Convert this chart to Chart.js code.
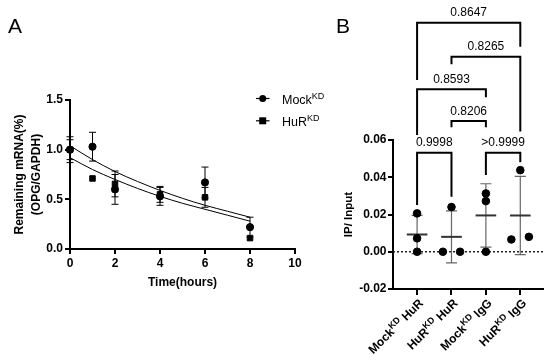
<!DOCTYPE html>
<html>
<head>
<meta charset="utf-8">
<script src="https://cdn.jsdelivr.net/npm/chart.js@4"></script>
<style>
  body { margin: 0; background: #fff; }
  #wrap { position: relative; width: 550px; height: 360px; font-family: Arial, "Liberation Sans", sans-serif; }
  canvas { position: absolute; top: 0; }
  #chartA { left: 0; }
  #chartB { left: 330px; }
  .letter { position: absolute; top: 15px; font-size: 21px; line-height: 21px; }
</style>
</head>
<body>
<div id="wrap">
  <canvas id="chartA" width="330" height="360"></canvas>
  <canvas id="chartB" width="220" height="360"></canvas>
  <div class="letter" style="left:8px">A</div>
  <div class="letter" style="left:336px">B</div>
</div>
<script>
// ---- panel A data ----
const times = [0, 1, 2, 4, 6, 8];
const mockMean = [1.00, 1.03, 0.60, 0.53, 0.67, 0.22];
const mockErr = [0.10, 0.145, 0.15, 0.09, 0.155, 0.10];
const hurMean = [1.00, 0.71, 0.655, 0.55, 0.52, 0.11];
const hurErr = [0.13, 0.0, 0.13, 0.08, 0.10, 0.0];
const fitTimes = [0, 1, 2, 3, 4, 5, 6, 7, 8];
const mockFit = [1.04, 0.90, 0.78, 0.68, 0.59, 0.51, 0.44, 0.38, 0.32];
const hurFit = [0.92, 0.80, 0.70, 0.61, 0.53, 0.46, 0.40, 0.34, 0.28];
const xTicksA = [0, 2, 4, 6, 8, 10];
const yTicksA = [0, 0.5, 1.0, 1.5];
const seriesNames = ['Mock', 'HuR'];
const supText = 'KD';

// ---- panel B data ----
const groupNames = ['Mock', 'HuR', 'Mock', 'HuR'];
const groupTargets = ['HuR', 'HuR', 'IgG', 'IgG'];
const groupValues = [
  [0.0206, 0.0072, 0.0],
  [0.024, 0.0, 0.0],
  [0.0313, 0.0272, 0.0],
  [0.0438, 0.0066, 0.008]
];
const groupJitter = [[0, 0, 0], [0, -0.25, 0.25], [0, 0, 0], [0, -0.26, 0.25]];
const groupSD = [0.0103, 0.014, 0.017, 0.021];
const yTicksB = [-0.02, 0, 0.02, 0.04, 0.06];
const comparisons = [[0, 1], [2, 3], [1, 2], [0, 2], [1, 3], [0, 3]];
const pValues = ['0.9998', '>0.9999', '0.8206', '0.8593', '0.8265', '0.8647'];

// bracket layout (y-axis units)
const bracketTop = [0.0532, 0.0532, 0.0702, 0.0872, 0.1047, 0.123];
const bracketLegs = [[0.0251, 0.0295], [0.0412, 0.048], [0.0668, 0.0668], [0.0627, 0.0829], [0.1007, 0.0645], [0.0922, 0.1101]];

const FONT = 'Arial, "Liberation Sans", sans-serif';
Chart.defaults.font.family = FONT;
Chart.defaults.color = '#000';

function mean(a) { return a.reduce((s, v) => s + v, 0) / a.length; }

// text with superscript parts: [base, sup, rest]
function richText(ctx, parts, x, y, size, weight, align) {
  const big = weight + ' ' + size + 'px ' + FONT;
  const small = weight + ' ' + Math.round(size * 0.75) + 'px ' + FONT;
  let total = 0;
  const segs = parts.map((t, i) => {
    ctx.font = i % 2 ? small : big;
    const w = ctx.measureText(t).width;
    total += w;
    return { t: t, sup: i % 2 === 1, w: w };
  });
  let cx = align === 'right' ? x - total : x;
  ctx.textAlign = 'left';
  ctx.textBaseline = 'alphabetic';
  segs.forEach(s => {
    ctx.font = s.sup ? small : big;
    ctx.fillText(s.t, cx, s.sup ? y - size * 0.38 : y);
    cx += s.w;
  });
}

const axisStyle = {
  grid: { drawOnChartArea: false, color: '#000', lineWidth: 2, tickLength: 5 },
  border: { color: '#000', width: 2 }
};

// error bars + legend for panel A
const panelA = {
  id: 'panelA',
  beforeDatasetsDraw(chart) {
    const { ctx, scales: { x, y } } = chart;
    ctx.save();
    ctx.strokeStyle = '#000';
    ctx.lineWidth = 1;
    [[mockMean, mockErr], [hurMean, hurErr]].forEach(([m, e]) => {
      times.forEach((t, i) => {
        if (!e[i]) return;
        const px = x.getPixelForValue(t);
        const top = y.getPixelForValue(m[i] + e[i]);
        const bot = y.getPixelForValue(m[i] - e[i]);
        ctx.beginPath();
        ctx.moveTo(px, top); ctx.lineTo(px, bot);
        ctx.moveTo(px - 3.5, top); ctx.lineTo(px + 3.5, top);
        ctx.moveTo(px - 3.5, bot); ctx.lineTo(px + 3.5, bot);
        ctx.stroke();
      });
    });
    ctx.restore();
  },
  afterDraw(chart) {
    const ctx = chart.ctx;
    ctx.save();
    seriesNames.forEach((name, i) => {
      const cy = 98.5 + i * 22.3;
      ctx.strokeStyle = '#000';
      ctx.lineWidth = 1.2;
      ctx.beginPath(); ctx.moveTo(256, cy); ctx.lineTo(269.5, cy); ctx.stroke();
      ctx.fillStyle = '#000';
      if (i === 0) { ctx.beginPath(); ctx.arc(262.7, cy, 3.5, 0, Math.PI * 2); ctx.fill(); }
      else { ctx.fillRect(259.2, cy - 3.5, 7, 7); }
      richText(ctx, [name, supText], 282, cy + 5, 12.5, 'normal', 'left');
    });
    ctx.restore();
  }
};

new Chart(document.getElementById('chartA'), {
  type: 'scatter',
  data: {
    datasets: [
      { type: 'line', data: fitTimes.map((t, i) => ({ x: t, y: mockFit[i] })), borderColor: '#000', borderWidth: 1, pointRadius: 0, tension: 0.4, cubicInterpolationMode: 'monotone', fill: false },
      { type: 'line', data: fitTimes.map((t, i) => ({ x: t, y: hurFit[i] })), borderColor: '#000', borderWidth: 1, pointRadius: 0, tension: 0.4, cubicInterpolationMode: 'monotone', fill: false },
      { label: seriesNames[0], data: times.map((t, i) => ({ x: t, y: mockMean[i] })), pointStyle: 'circle', pointRadius: 3.6, backgroundColor: '#000', borderColor: '#000', clip: false },
      { label: seriesNames[1], data: times.map((t, i) => ({ x: t, y: hurMean[i] })), pointStyle: 'rect', pointRadius: 3.9, backgroundColor: '#000', borderColor: '#000', clip: false }
    ]
  },
  options: {
    responsive: false,
    animation: false,
    events: [],
    layout: { padding: { top: 100, right: 35, left: 0, bottom: 0 } },
    plugins: { legend: { display: false }, tooltip: { enabled: false } },
    scales: {
      x: {
        type: 'linear', min: 0, max: 10,
        afterBuildTicks: s => { s.ticks = xTicksA.map(v => ({ value: v })); },
        afterFit: s => { s.height = 111; },
        ...axisStyle,
        ticks: { font: { size: 12, weight: 'bold' }, padding: 2, color: '#000' },
        title: { display: true, text: 'Time(hours)', font: { size: 12, weight: 'bold' }, padding: { top: 0, bottom: 70 } }
      },
      y: {
        min: 0, max: 1.5,
        afterBuildTicks: s => { s.ticks = yTicksA.map(v => ({ value: v })); },
        afterFit: s => { s.width = 70; },
        ...axisStyle,
        ticks: { font: { size: 12, weight: 'bold' }, padding: 2, color: '#000', callback: v => v.toFixed(1) },
        title: { display: true, text: ['Remaining mRNA(%)', '(OPG/GAPDH)'], font: { size: 12, weight: 'bold', lineHeight: 1.4 }, padding: { top: 11.6, bottom: 0 } }
      }
    }
  },
  plugins: [panelA]
});

// mean/SD, zero line, brackets and labels for panel B
const panelB = {
  id: 'panelB',
  beforeDatasetsDraw(chart) {
    const { ctx, chartArea, scales: { x, y } } = chart;
    ctx.save();
    const y0 = y.getPixelForValue(0);
    ctx.strokeStyle = '#222';
    ctx.lineWidth = 1.5;
    ctx.setLineDash([2, 2]);
    ctx.beginPath(); ctx.moveTo(chartArea.left, y0); ctx.lineTo(chartArea.right, y0); ctx.stroke();
    ctx.setLineDash([]);
    groupValues.forEach((vals, g) => {
      const m = mean(vals);
      const px = x.getPixelForValue(g);
      const top = y.getPixelForValue(m + groupSD[g]);
      const bot = y.getPixelForValue(m - groupSD[g]);
      ctx.strokeStyle = '#666';
      ctx.lineWidth = 1.2;
      ctx.beginPath();
      ctx.moveTo(px, top); ctx.lineTo(px, bot);
      ctx.moveTo(px - 5.5, top); ctx.lineTo(px + 5.5, top);
      ctx.moveTo(px - 5.5, bot); ctx.lineTo(px + 5.5, bot);
      ctx.stroke();
      ctx.strokeStyle = '#333';
      ctx.lineWidth = 2;
      const pm = y.getPixelForValue(m);
      ctx.beginPath(); ctx.moveTo(x.getPixelForValue(g - 0.3), pm); ctx.lineTo(x.getPixelForValue(g + 0.3), pm); ctx.stroke();
    });
    ctx.restore();
  },
  afterDraw(chart) {
    const { ctx, chartArea, scales: { x, y } } = chart;
    ctx.save();
    ctx.strokeStyle = '#000';
    ctx.fillStyle = '#000';
    ctx.lineWidth = 2;
    comparisons.forEach(([a, b], k) => {
      const xa = x.getPixelForValue(a), xb = x.getPixelForValue(b);
      const yt = y.getPixelForValue(bracketTop[k]);
      ctx.beginPath();
      ctx.moveTo(xa, y.getPixelForValue(bracketLegs[k][0]));
      ctx.lineTo(xa, yt);
      ctx.lineTo(xb, yt);
      ctx.lineTo(xb, y.getPixelForValue(bracketLegs[k][1]));
      ctx.stroke();
      ctx.font = '12px ' + FONT;
      ctx.textAlign = 'center';
      ctx.textBaseline = 'alphabetic';
      ctx.fillText(pValues[k], (xa + xb) / 2, yt - 6.5);
    });
    groupNames.forEach((name, g) => {
      ctx.save();
      ctx.translate(x.getPixelForValue(g) + 4, chartArea.bottom + 12);
      ctx.rotate(-Math.PI / 4);
      richText(ctx, [name, supText, ' ' + groupTargets[g]], 0, 4, 12, 'bold', 'right');
      ctx.restore();
    });
    ctx.restore();
  }
};

new Chart(document.getElementById('chartB'), {
  type: 'scatter',
  data: {
    datasets: [{
      data: groupValues.flatMap((vals, g) => vals.map((v, k) => ({ x: g + groupJitter[g][k], y: v }))),
      pointRadius: 3.8, backgroundColor: '#000', borderColor: '#000', clip: false
    }]
  },
  options: {
    responsive: false,
    animation: false,
    events: [],
    layout: { padding: { top: 140, right: 7, left: 0, bottom: 0 } },
    plugins: { legend: { display: false }, tooltip: { enabled: false } },
    scales: {
      x: {
        type: 'linear', min: -0.7, max: 3.66,
        afterBuildTicks: s => { s.ticks = [0, 1, 2, 3].map(v => ({ value: v })); },
        afterFit: s => { s.height = 71; },
        grid: { drawOnChartArea: false, color: '#000', lineWidth: 2, tickLength: 6 },
        border: { color: '#000', width: 2 },
        ticks: { display: false }
      },
      y: {
        min: -0.02, max: 0.06,
        afterBuildTicks: s => { s.ticks = yTicksB.map(v => ({ value: v })); },
        afterFit: s => { s.width = 63; },
        ...axisStyle,
        ticks: { font: { size: 12, weight: 'bold' }, padding: 1.5, color: '#000', callback: v => v.toFixed(2) },
        title: { display: true, text: 'IP/ Input', font: { size: 11.5, weight: 'bold' }, padding: { top: 12, bottom: 0 } }
      }
    }
  },
  plugins: [panelB]
});
</script>
</body>
</html>
